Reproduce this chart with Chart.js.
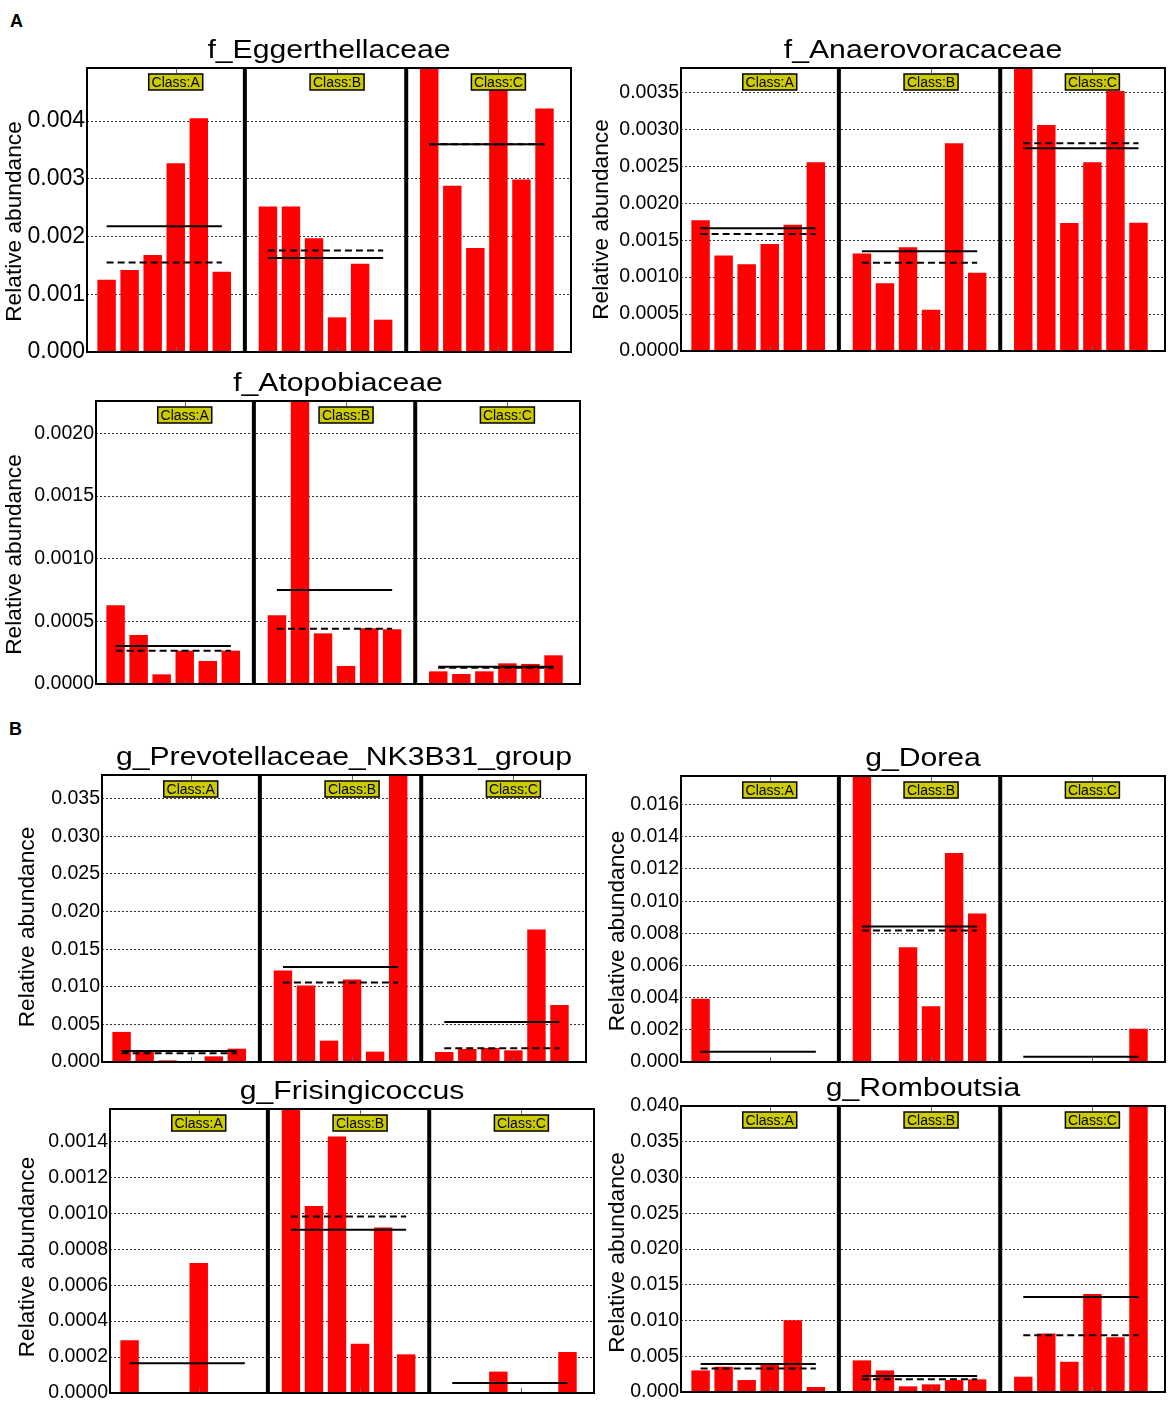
<!DOCTYPE html>
<html lang="en">
<head>
<meta charset="UTF-8">
<title>Relative abundance by class</title>
<script src="https://cdn.jsdelivr.net/npm/chart.js"></script>
<style>
  body { margin: 0; background: #fff; }
  #page { position: relative; width: 1170px; height: 1406px; font-family: "Liberation Sans", Arial, sans-serif; }
  #page canvas { position: absolute; }
  .tag { position: absolute; font-weight: bold; font-size: 18px; line-height: 18px; }
</style>
</head>
<body>
<div id="page">
  <div class="tag" style="left:10px;top:12px">A</div>
  <div class="tag" style="left:9px;top:720px">B</div>
</div>
<script>
const classNames = ['Class:A', 'Class:B', 'Class:C'];

// f_Eggerthellaceae
const eggerA = [0.00125, 0.00142, 0.00168, 0.00327, 0.00405, 0.00139];
const eggerB = [0.00252, 0.00252, 0.00197, 0.00060, 0.00153, 0.00056];
const eggerC = [0.00510, 0.00288, 0.00180, 0.00460, 0.00299, 0.00422];
const eggerMean = [0.00218, 0.00163, 0.00360];
const eggerMedian = [0.00155, 0.00176, 0.00360];
const eggerTicks = [0, 0.001, 0.002, 0.003, 0.004];

// f_Anaerovoracaceae
const anaeroA = [0.001769, 0.001292, 0.001175, 0.001449, 0.001710, 0.002556];
const anaeroB = [0.001319, 0.000918, 0.001404, 0.000558, 0.002813, 0.001058];
const anaeroC = [0.003860, 0.003060, 0.001733, 0.002556, 0.003520, 0.001737];
const anaeroMean = [0.001661, 0.001350, 0.002745];
const anaeroMedian = [0.001584, 0.001193, 0.002813];
const anaeroTicks = [0, 0.0005, 0.001, 0.0015, 0.002, 0.0025, 0.003, 0.0035];

// f_Atopobiaceae
const atopoA = [0.000628, 0.000391, 0.000077, 0.000266, 0.000184, 0.000266];
const atopoB = [0.000548, 0.002520, 0.000404, 0.000144, 0.000444, 0.000436];
const atopoC = [0.000101, 0.000080, 0.000101, 0.000165, 0.000160, 0.000229];
const atopoMean = [0.000303, 0.000750, 0.000138];
const atopoMedian = [0.000266, 0.000441, 0.000130];
const atopoTicks = [0, 0.0005, 0.001, 0.0015, 0.002];

// g_Prevotellaceae_NK3B31_group
const prevoA = [0.00400, 0.00138, 0.00022, 0.00010, 0.00075, 0.00177];
const prevoB = [0.01216, 0.01016, 0.00284, 0.01096, 0.00138, 0.03830];
const prevoC = [0.00133, 0.00173, 0.00186, 0.00155, 0.01761, 0.00759];
const prevoMean = [0.00146, 0.01264, 0.00532];
const prevoMedian = [0.00115, 0.01056, 0.00182];
const prevoTicks = [0, 0.005, 0.01, 0.015, 0.02, 0.025, 0.03, 0.035];

// g_Dorea
const doreaA = [0.00393, 0, 0, 0, 0, 0];
const doreaB = [0.01790, 0, 0.00714, 0.00346, 0.01300, 0.00923];
const doreaC = [0, 0, 0, 0, 0, 0.00207];
const doreaMean = [0.00064, 0.00843, 0.00033];
const doreaMedian = [0, 0.00818, 0];
const doreaTicks = [0, 0.002, 0.004, 0.006, 0.008, 0.01, 0.012, 0.014, 0.016];

// g_Frisingicoccus
const frisA = [0.000293, 0, 0, 0.000723, 0, 0];
const frisB = [0.001600, 0.001040, 0.001427, 0.000274, 0.000921, 0.000215];
const frisC = [0, 0, 0.000119, 0, 0, 0.000228];
const frisMean = [0.000165, 0.000908, 0.0000556];
const frisMedian = [0, 0.000982, 0];
const frisTicks = [0, 0.0002, 0.0004, 0.0006, 0.0008, 0.001, 0.0012, 0.0014];

// g_Romboutsia
const rombA = [0.00302, 0.00353, 0.00167, 0.00405, 0.01005, 0.00070];
const rombB = [0.00442, 0.00302, 0.00079, 0.00107, 0.00167, 0.00177];
const rombC = [0.00214, 0.00819, 0.00423, 0.01372, 0.00767, 0.04390];
const rombMean = [0.00391, 0.00223, 0.01330];
const rombMedian = [0.00330, 0.00177, 0.00795];
const rombTicks = [0, 0.005, 0.01, 0.015, 0.02, 0.025, 0.03, 0.035, 0.04];

const FONT = '"Liberation Sans", Arial, sans-serif';

// box = plot area [left, top, right, bottom] on the page, ylab = centre of the axis title
const panels = [
  { title: 'f_Eggerthellaceae', groups: [eggerA, eggerB, eggerC], mean: eggerMean, median: eggerMedian,
    ticks: eggerTicks, max: 0.00492, digits: 3, tickSize: 23, box: [87, 68, 571, 352], ylab: [14.3, 221.5] },
  { title: 'f_Anaerovoracaceae', groups: [anaeroA, anaeroB, anaeroC], mean: anaeroMean, median: anaeroMedian,
    ticks: anaeroTicks, max: 0.00383, digits: 4, tickSize: 19.5, box: [681, 68, 1165, 351], ylab: [602, 219.5] },
  { title: 'f_Atopobiaceae', groups: [atopoA, atopoB, atopoC], mean: atopoMean, median: atopoMedian,
    ticks: atopoTicks, max: 0.002258, digits: 4, tickSize: 19.5, box: [96, 401, 580, 684], ylab: [14.4, 554.5] },
  { title: 'g_Prevotellaceae_NK3B31_group', groups: [prevoA, prevoB, prevoC], mean: prevoMean, median: prevoMedian,
    ticks: prevoTicks, max: 0.03815, digits: 3, tickSize: 19.5, box: [102, 775, 586, 1062], ylab: [28.2, 927] },
  { title: 'g_Dorea', groups: [doreaA, doreaB, doreaC], mean: doreaMean, median: doreaMedian,
    ticks: doreaTicks, max: 0.01778, digits: 3, tickSize: 19.5, box: [681, 776, 1165, 1062], ylab: [618, 931] },
  { title: 'g_Frisingicoccus', groups: [frisA, frisB, frisC], mean: frisMean, median: frisMedian,
    ticks: frisTicks, max: 0.00158, digits: 4, tickSize: 19.5, box: [110, 1109, 594, 1393], ylab: [27.9, 1257] },
  { title: 'g_Romboutsia', groups: [rombA, rombB, rombC], mean: rombMean, median: rombMedian,
    ticks: rombTicks, max: 0.04, digits: 3, tickSize: 19.5, box: [681, 1106, 1165, 1392], ylab: [617.6, 1252.5] }
];

// each class takes 7 slots on the x axis: 6 bars and one empty slot
const slot = (g, i) => 7 * g + i + 1;

const decor = {
  id: 'decor',
  afterDatasetsDraw(chart, args, opts) {
    const { ctx, chartArea: a, scales: { x } } = chart;
    ctx.save();

    // thick separators between classes
    ctx.strokeStyle = '#000';
    ctx.lineWidth = 4;
    [7, 14].forEach(v => {
      const px = x.getPixelForValue(v);
      ctx.beginPath();
      ctx.moveTo(px, a.top);
      ctx.lineTo(px, a.bottom);
      ctx.stroke();
    });

    // little inward tick marks at class centres
    ctx.strokeStyle = '#666';
    ctx.lineWidth = 1;
    x.ticks.forEach(t => {
      const px = Math.round(x.getPixelForValue(t.value)) + 0.5;
      ctx.beginPath();
      ctx.moveTo(px, a.top);
      ctx.lineTo(px, a.top + 5);
      ctx.moveTo(px, a.bottom);
      ctx.lineTo(px, a.bottom - 5);
      ctx.stroke();
    });

    // yellow class labels
    ctx.font = '14px ' + FONT;
    ctx.textAlign = 'center';
    ctx.textBaseline = 'middle';
    classNames.forEach((name, g) => {
      const cx = x.getPixelForValue(7 * g + 4);
      const cy = a.top + 14;
      ctx.fillStyle = '#cccc00';
      ctx.fillRect(cx - 27, cy - 8, 54, 16);
      ctx.strokeStyle = '#000';
      ctx.lineWidth = 1.5;
      ctx.strokeRect(cx - 27, cy - 8, 54, 16);
      ctx.fillStyle = '#000';
      ctx.fillText(name, cx, cy + 1);
    });

    // frame
    ctx.lineWidth = 2;
    ctx.strokeStyle = '#000';
    ctx.strokeRect(a.left, a.top, a.right - a.left, a.bottom - a.top);

    // y axis title, placed as in the original (a little below the middle)
    ctx.save();
    ctx.font = '22.7px ' + FONT;
    ctx.translate(opts.ylab[0], opts.ylab[1]);
    ctx.rotate(-Math.PI / 2);
    ctx.fillText('Relative abundance', 0, 0);
    ctx.restore();

    // panel title (the original lettering is a bit wide)
    ctx.font = '26px ' + FONT;
    ctx.textBaseline = 'alphabetic';
    ctx.translate((a.left + a.right) / 2, a.top - 10);
    ctx.scale(1.16, 1);
    ctx.fillText(opts.title, 0, 0);
    ctx.restore();
  }
};

const page = document.getElementById('page');

panels.forEach(p => {
  const [L, T, R, B] = p.box;
  const left = Math.round(p.ylab[0] - 13.6);
  const top = T - 40;

  const canvas = document.createElement('canvas');
  canvas.width = R - left + 4;
  canvas.height = B - top + 20;
  canvas.style.left = left + 'px';
  canvas.style.top = top + 'px';
  page.appendChild(canvas);

  const bars = [];
  p.groups.forEach((vals, g) => vals.forEach((v, i) => bars.push({ x: slot(g, i), y: v })));

  const datasets = [{
    type: 'bar',
    data: bars,
    backgroundColor: '#ff0000',
    borderWidth: 0,
    barPercentage: 0.8,
    categoryPercentage: 1,
    order: 2
  }];

  [0, 1, 2].forEach(g => {
    datasets.push({
      type: 'line',
      data: [{ x: slot(g, 0), y: p.mean[g] }, { x: slot(g, 5), y: p.mean[g] }],
      borderColor: '#000',
      borderWidth: 2,
      pointRadius: 0,
      order: 1
    });
    datasets.push({
      type: 'line',
      data: [{ x: slot(g, 0), y: p.median[g] }, { x: slot(g, 5), y: p.median[g] }],
      borderColor: '#000',
      borderWidth: 2,
      borderDash: [7, 4],
      pointRadius: 0,
      order: 0
    });
  });

  new Chart(canvas, {
    type: 'bar',
    data: { datasets },
    options: {
      responsive: false,
      animation: false,
      events: [],
      layout: { padding: { top: 40, right: 4, bottom: 20, left: 0 } },
      plugins: {
        legend: { display: false },
        tooltip: { enabled: false },
        decor: {
          title: p.title,
          ylab: [p.ylab[0] - left, p.ylab[1] - top]
        }
      },
      scales: {
        x: {
          type: 'linear',
          min: 0.15,
          max: 21.15,
          offset: false,
          display: false,
          afterBuildTicks: s => { s.ticks = [4, 11, 18].map(value => ({ value })); }
        },
        y: {
          min: 0,
          max: p.max,
          afterBuildTicks: s => { s.ticks = p.ticks.map(value => ({ value })); },
          afterFit: s => { s.width = L - left; },
          ticks: {
            autoSkip: false,
            padding: 2,
            color: '#000',
            font: { family: FONT, size: p.tickSize },
            callback: v => v.toFixed(p.digits)
          },
          grid: { color: '#333', lineWidth: 1, drawTicks: false },
          border: { display: false, dash: [2, 2] }
        }
      }
    },
    plugins: [decor]
  });
});
</script>
</body>
</html>
